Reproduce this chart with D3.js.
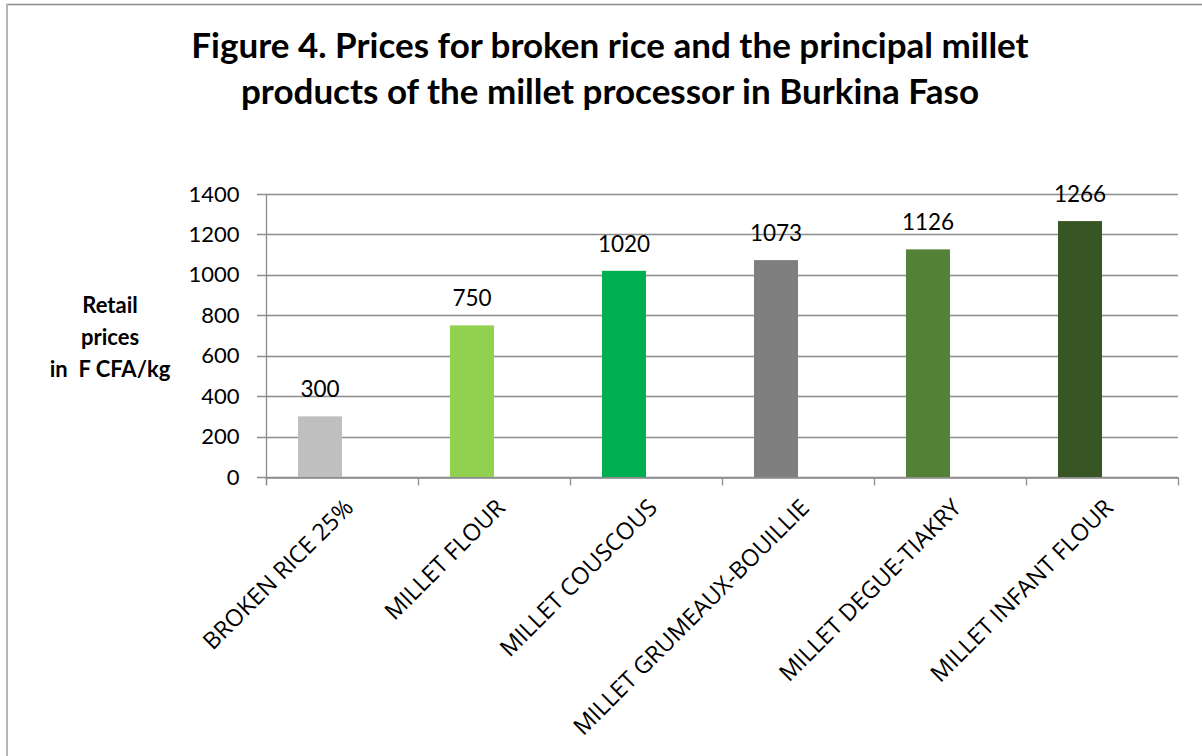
<!DOCTYPE html>
<html>
<head>
<meta charset="utf-8">
<script src="https://cdn.jsdelivr.net/npm/d3@7"></script>
<style>
  body { margin: 0; background: #fff; }
  text { font-family: Lato, "Open Sans", sans-serif; fill: #000; }
</style>
</head>
<body>
<div id="container"></div>
<script>
let width = 1202;
let height = 756;

// chart data
var categories = ["BROKEN RICE 25%", "MILLET FLOUR", "MILLET COUSCOUS",
  "MILLET GRUMEAUX-BOUILLIE", "MILLET DEGUE-TIAKRY", "MILLET INFANT FLOUR"];
var prices = [300, 750, 1020, 1073, 1126, 1266];
var barColors = ["#bfbfbf", "#92d050", "#00b050", "#7f7f7f", "#538135", "#375623"];
// second series of the original sheet is empty, it only takes up space in the cluster
var seriesKeys = ["price", "empty"];
var yTicks = [0, 200, 400, 600, 800, 1000, 1200, 1400];
var titleLines = ["Figure 4. Prices for broken rice and the principal millet",
  "products of the millet processor in Burkina Faso"];
var yTitleLines = ["Retail", "prices", "in  F CFA/kg"];

let margin = {left: 266, right: 24, top: 194, bottom: 279};

let svg = d3.select("#container").append("svg")
    .attr("width", width)
    .attr("height", height);

// outer frame (only top and left edges fall inside the picture)
svg.append("line")
  .attr("x1", 6).attr("x2", width).attr("y1", 4.5).attr("y2", 4.5)
  .attr("stroke", "#8c8c8c").attr("stroke-width", 1.5);
svg.append("line")
  .attr("x1", 7).attr("x2", 7).attr("y1", 4).attr("y2", height)
  .attr("stroke", "#b4b4b4").attr("stroke-width", 2);

let x = d3.scaleBand()
  .domain(categories)
  .range([margin.left, width - margin.right])
  .padding(0);

let x1 = d3.scaleBand()
  .domain(seriesKeys)
  .range([0, x.bandwidth()])
  .paddingInner(0)
  .paddingOuter(0.727);

let y = d3.scaleLinear()
  .domain([0, 1400])
  .range([height - margin.bottom, margin.top]);

// gridlines
svg.append("g")
  .attr("class", "grid")
  .selectAll("line")
  .data(yTicks)
  .enter().append("line")
    .attr("x1", margin.left - 9)
    .attr("x2", width - margin.right)
    .attr("y1", function(d){ return Math.round(y(d)) + 0.5; })
    .attr("y2", function(d){ return Math.round(y(d)) + 0.5; })
    .attr("stroke", "#8c8c8c")
    .attr("stroke-width", 1.3);

// y axis
let yAxis = svg.append("g")
  .attr("transform", "translate(" + (margin.left + 0.5) + ",0)")
  .call(d3.axisLeft(y).tickValues(yTicks).tickSize(0).tickPadding(27).tickFormat(d3.format("d")));
yAxis.select(".domain").attr("stroke", "#8c8c8c").attr("stroke-width", 1.3)
  .attr("d", "M0," + (margin.top) + "V" + (y(0) + 8));
yAxis.selectAll("text")
  .style("font-family", "Lato, sans-serif")
  .style("font-size", "22px")
  .attr("fill", "#000");

// x axis
let xAxis = svg.append("g")
  .attr("transform", "translate(0," + (Math.round(y(0)) + 0.5) + ")")
  .call(d3.axisBottom(x).tickSize(0).tickFormat(""));
xAxis.select(".domain").attr("stroke", "#8c8c8c").attr("stroke-width", 1.3);

// tick marks on the category boundaries
let bounds = categories.map(function(c){ return x(c); });
bounds.push(x(categories[categories.length - 1]) + x.bandwidth());
xAxis.selectAll(".bound")
  .data(bounds)
  .enter().append("line")
    .attr("x1", function(d){ return Math.round(d) + 0.5; })
    .attr("x2", function(d){ return Math.round(d) + 0.5; })
    .attr("y1", 0).attr("y2", 8)
    .attr("stroke", "#8c8c8c")
    .attr("stroke-width", 1.3);

// category labels, rotated
xAxis.selectAll(".lab")
  .data(categories)
  .enter().append("text")
    .attr("transform", function(d){
      return "translate(" + (x(d) + x.bandwidth() / 2 + 1) + ",20) rotate(-45)";
    })
    .attr("text-anchor", "end")
    .attr("dy", "0.7em")
    .style("font-family", "'Open Sans', sans-serif")
    .style("font-size", "23.5px")
    .text(function(d){ return d; });

// bars
let bars = svg.append("g")
  .selectAll("rect")
  .data(categories)
  .enter().append("rect")
    .attr("x", function(d){ return x(d) + x1("price"); })
    .attr("width", x1.bandwidth())
    .attr("y", function(d, i){ return y(prices[i]); })
    .attr("height", function(d, i){ return y(0) - y(prices[i]); })
    .attr("fill", function(d, i){ return barColors[i]; });

// value labels
svg.append("g")
  .selectAll("text")
  .data(categories)
  .enter().append("text")
    .attr("x", function(d){ return x(d) + x1("price") + x1.bandwidth() / 2; })
    .attr("y", function(d, i){ return y(prices[i]) - 19; })
    .attr("text-anchor", "middle")
    .style("font-size", "22.5px")
    .text(function(d, i){ return prices[i]; });

// title
svg.append("g")
  .selectAll("text")
  .data(titleLines)
  .enter().append("text")
    .attr("x", 610)
    .attr("y", function(d, i){ return 58 + i * 46; })
    .attr("text-anchor", "middle")
    .style("font-size", "35px")
    .style("font-weight", "bold")
    .text(function(d){ return d; });

// y axis title
svg.append("g")
  .selectAll("text")
  .data(yTitleLines)
  .enter().append("text")
    .attr("x", 110)
    .attr("y", function(d, i){ return 313 + i * 32; })
    .attr("text-anchor", "middle")
    .style("font-size", "22px")
    .style("font-weight", "bold")
    .style("white-space", "pre")
    .text(function(d){ return d; });
</script>
</body>
</html>
